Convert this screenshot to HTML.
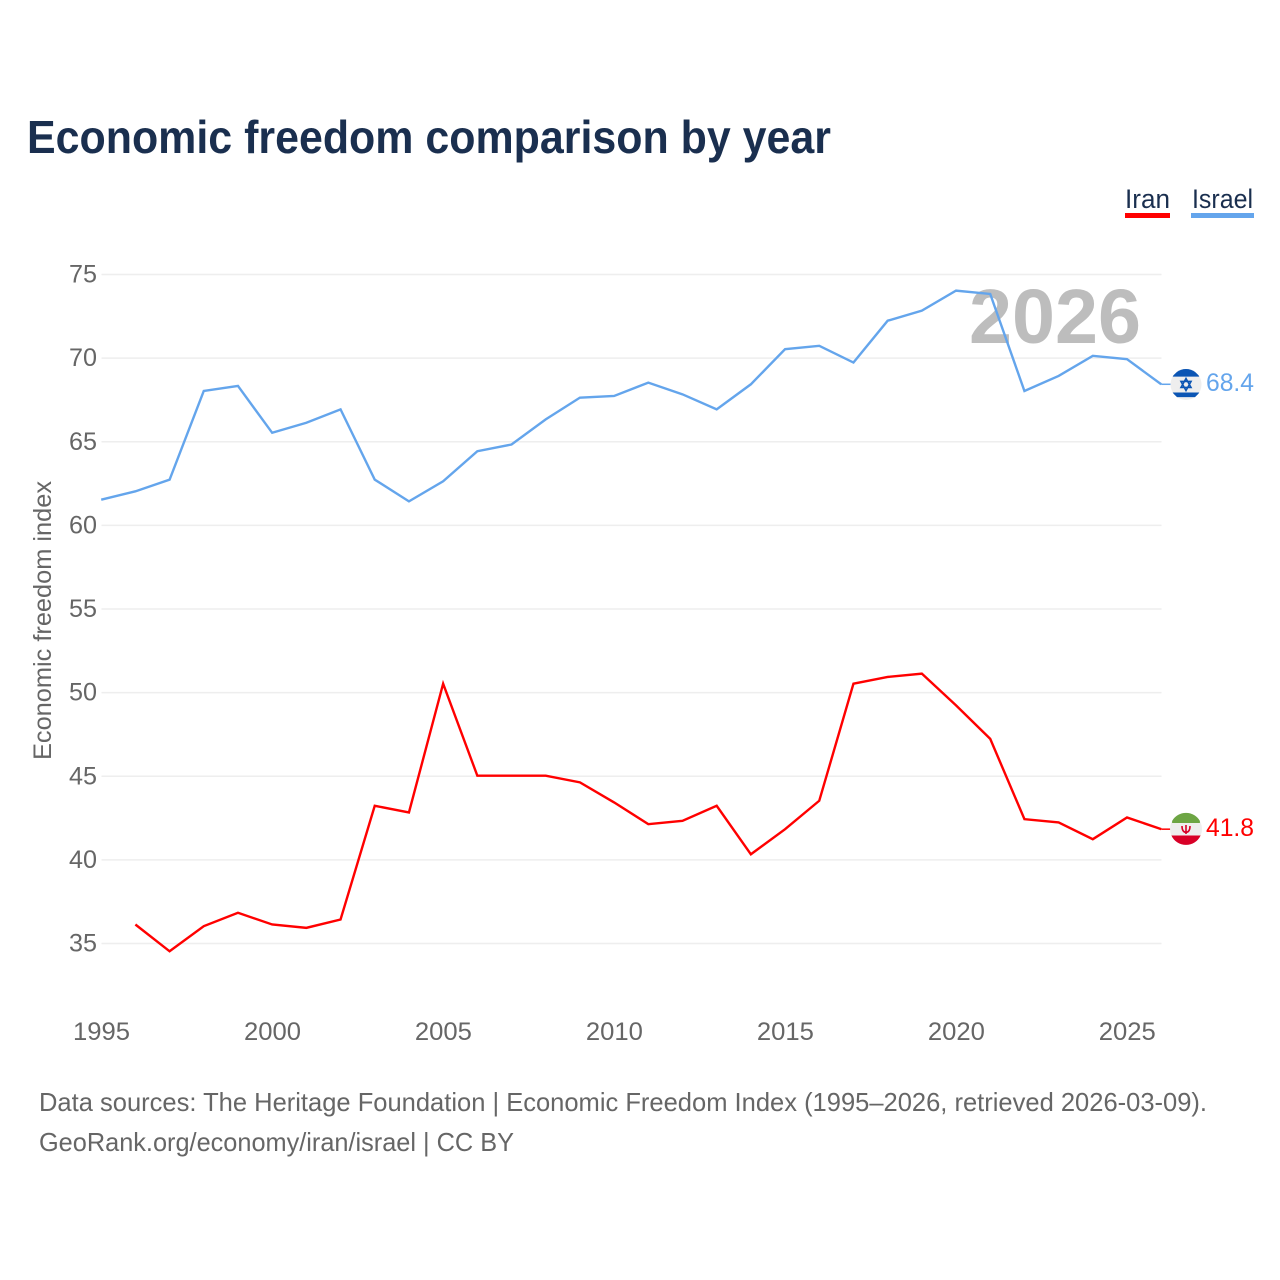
<!DOCTYPE html>
<html>
<head>
<meta charset="utf-8">
<title>Economic freedom comparison by year</title>
<style>
html,body{margin:0;padding:0;background:#fff;}
svg{display:block;font-family:"Liberation Sans",sans-serif;}
</style>
</head>
<body>
<svg id="chart" xmlns="http://www.w3.org/2000/svg" width="1280" height="1280" viewBox="0 0 1280 1280">
  <rect x="0" y="0" width="1280" height="1280" fill="#fff"/>
  <text x="27" y="153" font-size="46" font-weight="700" fill="#1a2f4f" textLength="804" lengthAdjust="spacingAndGlyphs">Economic freedom comparison by year</text>
  <g>
    <text x="1125" y="208" font-size="27" fill="#1a2f4f" textLength="45" lengthAdjust="spacingAndGlyphs">Iran</text>
    <rect x="1125" y="213" width="45" height="5" fill="#ff0000"/>
  </g>
  <g>
    <text x="1192" y="208" font-size="27" fill="#1a2f4f" textLength="61" lengthAdjust="spacingAndGlyphs">Israel</text>
    <rect x="1191" y="213" width="63" height="5" fill="#64a5ec"/>
  </g>
  <g id="grid"></g>
  <g id="yticks"></g>
  <g id="xticks"></g>
  <text transform="translate(51 760) rotate(-90)" x="0" y="0" font-size="25" fill="#666" textLength="279" lengthAdjust="spacingAndGlyphs">Economic freedom index</text>
  <text x="969" y="343" font-size="77" font-weight="700" fill="#bdbdbd" textLength="172" lengthAdjust="spacingAndGlyphs">2026</text>
  <g id="series" transform="translate(-0.3 -0.6)"></g>
  <g id="flag-israel">
    <circle cx="0" cy="0" r="15.5" fill="#eeeeee"/>
    <path d="M-9,-12.6 A15.5,15.5 0 0 1 9,-12.6 L12.4,-9.3 L13.3,-7.8 L-13.3,-7.8 L-12.4,-9.3 Z" fill="#0b55b4"/>
    <path d="M-13.3,8 L13.3,8 L12.4,9.3 L9,12.6 L-9,12.6 L-12.4,9.3 Z" fill="#0b55b4"/>
    <path d="M0,-6 L5,3 L-5,3 Z M0,6 L5,-3 L-5,-3 Z" fill="none" stroke="#0b55b4" stroke-width="1.6"/>
  </g>
  <g id="flag-iran">
    <circle cx="0" cy="0" r="16" fill="#eeeeee"/>
    <path d="M-13.9,-8 A16,16 0 0 1 13.9,-8 L13.9,-6 L-13.9,-6 Z" fill="#6da544"/>
    <path d="M-14.6,6.5 L14.6,6.5 A16,16 0 0 1 -14.6,6.5 Z" fill="#d80027"/>
    <path d="M-4,-3 Q-4,3 0,3.5 Q4,3 4,-3 M0,-4 V5" fill="none" stroke="#d80027" stroke-width="1.6"/>
  </g>
  <text id="value-israel" x="1206" font-size="25" fill="#64a5ec" textLength="48" lengthAdjust="spacingAndGlyphs"></text>
  <text id="value-iran" x="1206" font-size="25" fill="#ff0000" textLength="48" lengthAdjust="spacingAndGlyphs"></text>
  <text x="39" y="1111" font-size="26" fill="#666" textLength="1168" lengthAdjust="spacingAndGlyphs">Data sources: The Heritage Foundation | Economic Freedom Index (1995–2026, retrieved 2026-03-09).</text>
  <text x="39" y="1151" font-size="26" fill="#666" textLength="475" lengthAdjust="spacingAndGlyphs">GeoRank.org/economy/iran/israel | CC BY</text>
</svg>
<script>
const years = [1995,1996,1997,1998,1999,2000,2001,2002,2003,2004,2005,2006,2007,2008,2009,2010,2011,2012,2013,2014,2015,2016,2017,2018,2019,2020,2021,2022,2023,2024,2025,2026];
const israelValues = [61.5,62.0,62.7,68.0,68.3,65.5,66.1,66.9,62.7,61.4,62.6,64.4,64.8,66.3,67.6,67.7,68.5,67.8,66.9,68.4,70.5,70.7,69.7,72.2,72.8,74.0,73.8,68.0,68.9,70.1,69.9,68.4];
const iranValues = [null,36.1,34.5,36.0,36.8,36.1,35.9,36.4,43.2,42.8,50.5,45.0,45.0,45.0,44.6,43.4,42.1,42.3,43.2,40.3,41.8,43.5,50.5,50.9,51.1,49.2,47.2,42.4,42.2,41.2,42.5,41.8];
const yTicks = [35,40,45,50,55,60,65,70,75];
const xTicks = [1995,2000,2005,2010,2015,2020,2025];

const NS = 'http://www.w3.org/2000/svg';
const xMin = 1995, xMax = 2026, xLeft = 101.5, xRight = 1161.5;
const yLow = 35, yHigh = 75, yBottom = 943.5, yTop = 274.5;
function xScale(v){ return xLeft + (v - xMin) * (xRight - xLeft) / (xMax - xMin); }
function yScale(v){ return yBottom - (v - yLow) * (yBottom - yTop) / (yHigh - yLow); }

const grid = document.getElementById('grid');
const yTickGroup = document.getElementById('yticks');
const xTickGroup = document.getElementById('xticks');
const seriesGroup = document.getElementById('series');

yTicks.forEach(function(t){
  const line = document.createElementNS(NS, 'line');
  
  
  line.setAttribute('x1', xLeft);
  line.setAttribute('x2', xRight);
  line.setAttribute('y1', yScale(t));
  line.setAttribute('y2', yScale(t));
  line.setAttribute('stroke', '#eeeeee');
  line.setAttribute('stroke-width', '1.6');
  grid.appendChild(line);

  const label = document.createElementNS(NS, 'text');
  
  
  label.setAttribute('x', 97);
  label.setAttribute('y', yScale(t) + 8);
  label.setAttribute('text-anchor', 'end');
  label.setAttribute('font-size', '25');
  label.setAttribute('fill', '#666');
  label.setAttribute('textLength', '28');
  label.setAttribute('lengthAdjust', 'spacingAndGlyphs');
  label.textContent = t;
  yTickGroup.appendChild(label);
});

xTicks.forEach(function(t){
  const label = document.createElementNS(NS, 'text');
  
  
  label.setAttribute('x', xScale(t));
  label.setAttribute('y', 1040);
  label.setAttribute('text-anchor', 'middle');
  label.setAttribute('font-size', '25');
  label.setAttribute('fill', '#666');
  label.setAttribute('textLength', '57');
  label.setAttribute('lengthAdjust', 'spacingAndGlyphs');
  label.textContent = t;
  xTickGroup.appendChild(label);
});

function pathFor(values){
  let d = '';
  values.forEach(function(v, i){
    if (v === null) return;
    d += (d ? 'L' : 'M') + xScale(years[i]).toFixed(2) + ',' + yScale(v).toFixed(2);
  });
  return d;
}

const iranLine = document.createElementNS(NS, 'path');


iranLine.setAttribute('d', pathFor(iranValues));
iranLine.setAttribute('fill', 'none');
iranLine.setAttribute('stroke', '#ff0000');
iranLine.setAttribute('stroke-width', '2.4');
seriesGroup.appendChild(iranLine);

const israelLine = document.createElementNS(NS, 'path');


israelLine.setAttribute('d', pathFor(israelValues));
israelLine.setAttribute('fill', 'none');
israelLine.setAttribute('stroke', '#64a5ec');
israelLine.setAttribute('stroke-width', '2.4');
seriesGroup.appendChild(israelLine);

const israelLast = israelValues[israelValues.length - 1];
const iranLast = iranValues[iranValues.length - 1];

const israelLeader = document.createElementNS(NS, 'line');


israelLeader.setAttribute('x1', xRight);
israelLeader.setAttribute('x2', 1171);
israelLeader.setAttribute('y1', yScale(israelLast));
israelLeader.setAttribute('y2', yScale(israelLast));
israelLeader.setAttribute('stroke', '#64a5ec');
israelLeader.setAttribute('stroke-width', '1.5');
seriesGroup.appendChild(israelLeader);

const iranLeader = document.createElementNS(NS, 'line');


iranLeader.setAttribute('x1', xRight);
iranLeader.setAttribute('x2', 1171);
iranLeader.setAttribute('y1', yScale(iranLast));
iranLeader.setAttribute('y2', yScale(iranLast));
iranLeader.setAttribute('stroke', '#ff0000');
iranLeader.setAttribute('stroke-width', '1.5');
seriesGroup.appendChild(iranLeader);

document.getElementById('flag-israel').setAttribute('transform', 'translate(1186 ' + (yScale(israelLast) - 0.4) + ')');
document.getElementById('flag-iran').setAttribute('transform', 'translate(1186 ' + (yScale(iranLast) - 0.8) + ')');

const israelText = document.getElementById('value-israel');
israelText.setAttribute('y', yScale(israelLast) + 6);
israelText.textContent = israelLast.toFixed(1);
const iranText = document.getElementById('value-iran');
iranText.setAttribute('y', yScale(iranLast) + 6);
iranText.textContent = iranLast.toFixed(1);
</script>
</body>
</html>
